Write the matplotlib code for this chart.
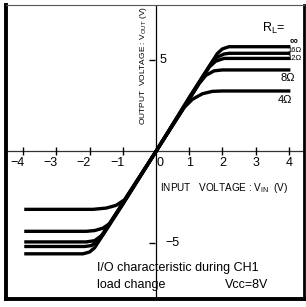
import numpy as np
import matplotlib.pyplot as plt

plt.rcParams['font.family'] = ['Liberation Sans', 'DejaVu Sans']
plt.rcParams['mathtext.fontset'] = 'custom'
plt.rcParams['mathtext.rm'] = 'Liberation Sans'

# curves (input V, output V)
loads = ['∞', '16Ω', '12Ω', '8Ω', '4Ω']
vin_inf = [-3.97, -2.2, -2.0, -1.85, -1.0, 0.0, 1.0, 1.85, 2.0, 2.2, 4.05]
vout_inf = [-5.6, -5.6, -5.5, -5.27, -2.9, 0.0, 2.95, 5.35, 5.6, 5.72, 5.72]
vin_16 = [-3.97, -2.15, -1.95, -1.75, -1.0, 0.0, 1.0, 1.7, 1.85, 2.05, 2.2, 4.05]
vout_16 = [-5.2, -5.2, -5.15, -4.9, -2.85, 0.0, 2.9, 4.9, 5.15, 5.32, 5.36, 5.36]
vin_12 = [-3.97, -2.1, -1.85, -1.6, -1.0, 0.0, 1.0, 1.6, 1.8, 2.05, 4.05]
vout_12 = [-4.95, -4.95, -4.88, -4.55, -2.85, 0.0, 2.88, 4.6, 4.93, 5.08, 5.08]
vin_8 = [-3.97, -2.1, -1.85, -1.6, -1.4, -1.0, 0.0, 1.0, 1.3, 1.5, 1.75, 2.0, 4.05]
vout_8 = [-4.37, -4.37, -4.33, -4.2, -3.95, -2.82, 0.0, 2.85, 3.7, 4.15, 4.4, 4.45, 4.45]
vin_4 = [-3.97, -1.9, -1.5, -1.2, -0.95, 0.0, 0.85, 1.1, 1.4, 1.7, 2.0, 4.05]
vout_4 = [-3.17, -3.17, -3.1, -2.95, -2.65, 0.0, 2.4, 2.85, 3.15, 3.28, 3.3, 3.3]

x_ticks = [-4, -3, -2, -1, 1, 2, 3, 4]
x_tick_labels = ['−4', '−3', '−2', '−1', '1', '2', '3', '4']
y_ticks = [5, -5]

fig = plt.figure(figsize=(3.06, 3.07), dpi=100)
ax = fig.add_axes([6 / 306, 8 / 307, 298 / 306, 294 / 307])
ax.set_xlim(-4.52, 4.46)
ax.set_ylim(-8.07, 8.0)
ax.set_xticks([])
ax.set_yticks([])
for side, lw in [('left', 2.8), ('bottom', 2.8), ('right', 2.0), ('top', 0.8)]:
    ax.spines[side].set_linewidth(lw)
ax.spines['top'].set_color('#555555')

ax.axhline(0, color='#333333', lw=0.9)
ax.axvline(0, color='black', lw=0.9)

curves = [(vin_inf, vout_inf), (vin_16, vout_16), (vin_12, vout_12),
          (vin_8, vout_8), (vin_4, vout_4)]
for xs, ys in curves:
    ax.plot(xs, ys, color='black', lw=2.4, solid_capstyle='butt',
            solid_joinstyle='round')

# tick marks and labels
ax.plot(x_ticks, [0] * len(x_ticks), ls='none', marker='|', ms=6,
        mew=1.0, color='black')
for t, lab in zip(x_ticks, x_tick_labels):
    ax.text(t - (0.17 if t < 0 else 0), -0.62, lab, ha='center', va='center',
            fontsize=9)
ax.text(0.12, -0.62, '0', ha='center', va='center', fontsize=9)
ax.plot([-0.12] * len(y_ticks), y_ticks, ls='none', marker='_', ms=5,
        mew=1.0, color='black')
ax.text(0.22, 5.0, '5', ha='center', va='center', fontsize=9)
ax.text(0.5, -5.0, '−5', ha='center', va='center', fontsize=9)

# load labels
ax.text(3.55, 6.72, r'R$_{\rm L}$=', ha='center', va='center', fontsize=9)
ax.text(4.14, 6.07, loads[0], ha='center', va='center', fontsize=8,
        fontweight='bold')
ax.text(4.17, 5.5, loads[1], ha='center', va='center', fontsize=5.5)
ax.text(4.17, 5.1, loads[2], ha='center', va='center', fontsize=5.5)
ax.text(3.98, 4.0, loads[3], ha='center', va='center', fontsize=8)
ax.text(3.9, 2.8, loads[4], ha='center', va='center', fontsize=8)

ax.text(0.12, -2.0, r'INPUT   VOLTAGE : V$_{\rm IN}$  (V)', ha='left',
        va='center', fontsize=7.2)
ax.text(-0.39, 4.7, r'OUTPUT  VOLTAGE : V$_{\rm OUT}$ (V)', ha='center',
        va='center', rotation=90, fontsize=6)

ax.text(-1.78, -6.4, 'I/O characteristic during CH1', ha='left',
        va='center', fontsize=9)
ax.text(-1.78, -7.3, 'load change', ha='left', va='center', fontsize=9)
ax.text(2.08, -7.3, 'Vcc=8V', ha='left', va='center', fontsize=9)

fig.savefig('out.png', dpi=100)
